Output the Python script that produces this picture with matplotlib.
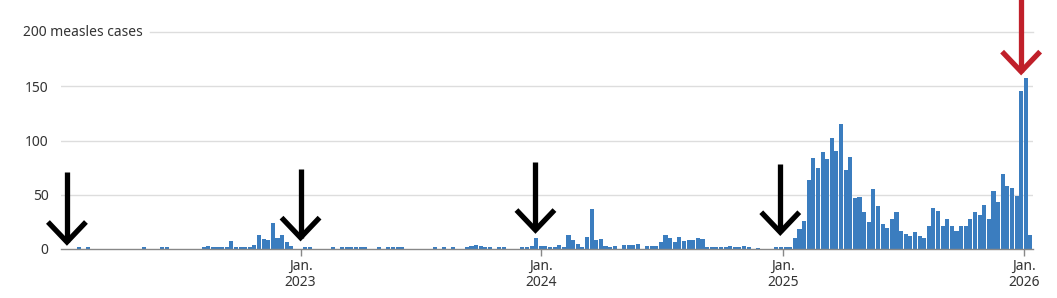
import numpy as np
import pandas as pd
import matplotlib
matplotlib.use("Agg")
import matplotlib.pyplot as plt
import matplotlib.dates as mdates
from matplotlib.transforms import blended_transform_factory

plt.rcParams['font.family'] = ['Noto Sans', 'DejaVu Sans']

# Weekly measles cases (weeks beginning 2021-12-30, one value per week)
cases_2022 = [0, 0, 0, 0, 2, 0, 2, 0, 0, 0,
              0, 0, 0, 0, 0, 0, 0, 0, 2, 0,
              0, 0, 2, 2, 0, 0, 0, 0, 0, 0,
              0, 2, 3, 2, 2, 2, 2, 7, 2, 2,
              2, 2, 4, 13, 9, 8, 24, 10, 13, 6,
              3, 0]
cases_2023 = [0, 2, 2, 0, 0, 0, 0, 2, 0, 2,
              2, 2, 2, 2, 2, 0, 0, 2, 0, 2,
              2, 2, 2, 0, 0, 0, 0, 0, 0, 2,
              0, 2, 0, 2, 0, 0, 2, 3, 4, 3,
              2, 2, 0, 2, 2, 0, 0, 0, 2, 2,
              3, 10]
cases_2024 = [3, 3, 2, 2, 4, 2, 13, 8, 5, 2,
              11, 37, 8, 9, 3, 2, 3, 0, 4, 4,
              4, 5, 0, 3, 3, 3, 6, 13, 10, 6,
              11, 7, 8, 8, 10, 9, 2, 2, 2, 2,
              2, 3, 2, 2, 3, 2, 0, 1, 0, 0,
              0, 2]
cases_2025 = [2, 2, 2, 10, 18, 26, 64, 84, 75, 89,
              83, 102, 90, 115, 73, 85, 47, 48, 34, 25,
              55, 40, 23, 19, 28, 34, 17, 14, 12, 16,
              12, 10, 21, 38, 35, 21, 28, 21, 17, 21,
              21, 28, 34, 31, 41, 28, 53, 43, 69, 58,
              56, 49]
cases_2026 = [146, 158, 13]

values = cases_2022 + cases_2023 + cases_2024 + cases_2025 + cases_2026
first_week = pd.Timestamp('2021-12-30')
week_starts = [first_week + pd.Timedelta(days=7 * i) for i in range(len(values))]

tick_years = [2023, 2024, 2025, 2026]
y_ticks = [0, 50, 100, 150]
top_label = "200 measles cases"

# Annotation arrows: (date, tip value, top value, colour)
arrows = [
    ('2022-01-12', 6.5, 71, 'black'),
    ('2023-01-01', 10.5, 73.7, 'black'),
    ('2023-12-23', 17.5, 80.5, 'black'),
    ('2024-12-28', 15.5, 78.3, 'black'),
    ('2025-12-28', 163.5, 235, '#c0202a'),
]

W, H = 1057, 298
fig = plt.figure(figsize=(W / 100, H / 100), dpi=100)
ax = fig.add_axes([61 / W, 49 / H, (1033 - 61) / W, (249 - 32) / H])

ax.bar(mdates.date2num(week_starts), values, width=6.2, align='edge',
       color='#3b7dbf', linewidth=0, zorder=2)

ax.set_ylim(0, 200)
ax.set_xlim(mdates.date2num(pd.Timestamp('2022-01-03')),
            mdates.date2num(pd.Timestamp('2026-01-15')))

grid_col = '#dddddd'
for v in [50, 100, 150]:
    ax.axhline(v, color=grid_col, lw=1, zorder=1)
ax.axhline(200, xmin=(150 - 61) / (1033 - 61), color=grid_col, lw=1, zorder=1, clip_on=False)

for s in ['top', 'right', 'left']:
    ax.spines[s].set_visible(False)
ax.spines['bottom'].set_color('#888888')
ax.spines['bottom'].set_linewidth(1)
ax.spines['bottom'].set_zorder(3)

ax.set_yticks(y_ticks)
ax.set_yticklabels([str(v) for v in y_ticks])
ax.tick_params(axis='y', length=0, pad=9, labelsize=10, labelcolor='#333333')

xt = [mdates.date2num(pd.Timestamp(f'{y}-01-01')) for y in tick_years]
ax.set_xticks(xt)
ax.set_xticklabels([f'Jan.\n{y}' for y in tick_years], linespacing=1.15)
ax.tick_params(axis='x', length=5, width=1, color='#888888', pad=2,
               labelsize=10, labelcolor='#333333')

tr = blended_transform_factory(fig.transFigure, ax.transData)
ax.text(23 / W, 200, top_label, transform=tr, ha='left', va='center',
        fontsize=10, color='#333333')

dx = 28.8  # days
dy = 18.4  # cases
for d, tip, top, col in arrows:
    x = mdates.date2num(pd.Timestamp(d))
    ax.plot([x, x], [top, tip], color=col, lw=3.8, solid_capstyle='butt',
            clip_on=False, zorder=5)
    ax.plot([x - dx, x, x + dx], [tip + dy, tip, tip + dy], color=col, lw=3.8,
            solid_joinstyle='miter', solid_capstyle='butt', clip_on=False, zorder=5)

fig.savefig('out.png', dpi=100)
